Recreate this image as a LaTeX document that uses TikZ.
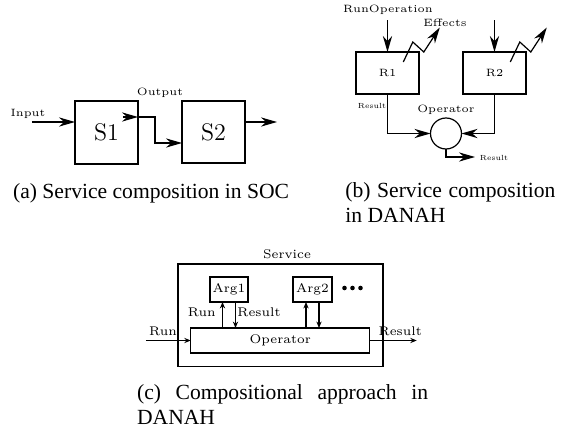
\documentclass[tikz,border=0pt]{standalone}
\usepackage{fontspec}
\newfontfamily\capfont{Liberation Serif}
\usetikzlibrary{arrows.meta,calc}

\tikzset{
  blk/.style={draw,line width=0.8pt,inner sep=0pt,outer sep=0pt},
  cblk/.style={draw,line width=0.6pt,inner sep=0pt,outer sep=0pt,font=\fontsize{6.3}{7}\selectfont},
  tag/.style={inner sep=0pt,font=\fontsize{5.3}{6}\selectfont},
  ctag/.style={inner sep=0pt,font=\fontsize{6.3}{7}\selectfont},
  tinytag/.style={inner sep=0pt,font=\fontsize{3.7}{4}\selectfont},
  bigarr/.style={line width=0.6pt,-{Stealth[length=8pt,width=4.6pt,inset=2.6pt]}},
  smlarr/.style={line width=0.6pt,-{Stealth[length=3.2pt,width=2.6pt]}},
  subcap/.style={inner sep=0pt,anchor=base west,font=\capfont\fontsize{10.8}{12.3}\selectfont}
}

\begin{document}
\begin{tikzpicture}[x=0.5pt,y=-0.5pt,>=Stealth]
 \useasboundingbox (0,0) rectangle (570,429);
 % (a)
 \node[blk,minimum width=31.5pt,minimum height=31.5pt,font=\fontsize{12}{14}\selectfont] (s1) at (106.5,132.5) {S1};
 \node[blk,minimum width=31.5pt,minimum height=31pt,font=\fontsize{12}{14}\selectfont] (s2) at (213.5,132) {S2};
 \node[tag] (input) at (28,113.5) {Input};
 \node[tag] (output) at (160,93) {Output};
 \coordinate (inpt) at (32,122);
 \coordinate (optin) at (123,117);
 \coordinate (bend) at (155,143);
 \coordinate (outpt) at (277,122);
 \draw[bigarr] (inpt) -- (inpt -| s1.west);
 \draw[bigarr] (optin) -- (optin -| s1.east);
 \draw[bigarr] (optin -| s1.east) -| (bend) -- (bend -| s2.west);
 \draw[bigarr] (outpt -| s2.east) -- (outpt);
 % (b)
 \node[blk,tag,minimum width=31.5pt,minimum height=21pt] (r1) at (387.5,73) {R1};
 \node[blk,tag,minimum width=31.5pt,minimum height=21pt] (r2) at (494.5,73) {R2};
 \node[tag] (runop) at (388,9.5) {RunOperation};
 \node[tag] (effects) at (445,23) {Effects};
 \node[draw,circle,line width=0.6pt,minimum size=15.5pt,inner sep=0pt,outer sep=0pt] (oper) at (446,133.5) {};
 \node[tag] (opname) at (446,110) {Operator};
 \node[tinytag] (res1) at (372,106) {Result};
 \node[tinytag] (res2) at (494,158) {Result};
 \foreach \r in {r1,r2} {
   \draw[bigarr] ($(\r.north)+(0,-32)$) -- (\r.north);
   \draw[bigarr] ($(\r)+(15.8,-11)$) -- ++(9.5,-20) -- ++(11,10) -- ++(16,-24.5);
 }
 \draw[bigarr] (r1.south) |- (oper.west);
 \draw[bigarr] (r2.south) |- (oper.east);
 \coordinate (resend) at (475,157);
 \draw[bigarr] (oper.south) |- (resend);
 % (c)
 \node[draw,line width=0.6pt,minimum width=102.5pt,minimum height=51.35pt,inner sep=0pt] (svc) at (280.5,315.3) {};
 \node[ctag] (svcname) at (287,254.5) {Service};
 \node[cblk,minimum width=19pt,minimum height=12.5pt] (arg1) at (229,289.5) {Arg1};
 \node[cblk,minimum width=19.5pt,minimum height=12.5pt] (arg2) at (312.5,289.5) {Arg2};
 \foreach \d in {344.5,352.5,360.5}
   \fill (\d,288) circle (2.3);
 \node[cblk,minimum width=89.6pt,minimum height=12.5pt] (opbox) at (280.3,340.5) {Operator};
 \foreach \a in {arg1,arg2} {
   \coordinate (up\a) at ($(\a.south)+(-6.5,0)$);
   \coordinate (dn\a) at ($(\a.south)+(6.5,0)$);
   \draw[smlarr] (up\a |- opbox.north) -- (up\a);
   \draw[smlarr] (dn\a) -- (dn\a |- opbox.north);
 }
 \node[ctag] (runin) at (201.7,312) {Run};
 \node[ctag] (resin) at (259,312) {Result};
 \node[ctag] (runout) at (163,331.5) {Run};
 \node[ctag] (resout) at (400.3,331.5) {Result};
 \coordinate (cin) at (146,340.5);
 \coordinate (cout) at (416.7,340.5);
 \draw[smlarr] (cin) -- (opbox.west);
 \draw[smlarr] (opbox.east) -- (cout);
 % captions
 \node[subcap] (capa) at (12.7,198) {(a) Service composition in SOC};
 \node[subcap] (capb) at (345,197.7) {\makebox[105pt][s]{(b) Service composition}};
 \node[subcap] (capbb) at (345,222.7) {in DANAH};
 \node[subcap] (capc) at (136.7,400) {\makebox[145.5pt][s]{(c) Compositional approach in}};
 \node[subcap] (capcc) at (136.7,424) {DANAH};
\end{tikzpicture}
\end{document}
